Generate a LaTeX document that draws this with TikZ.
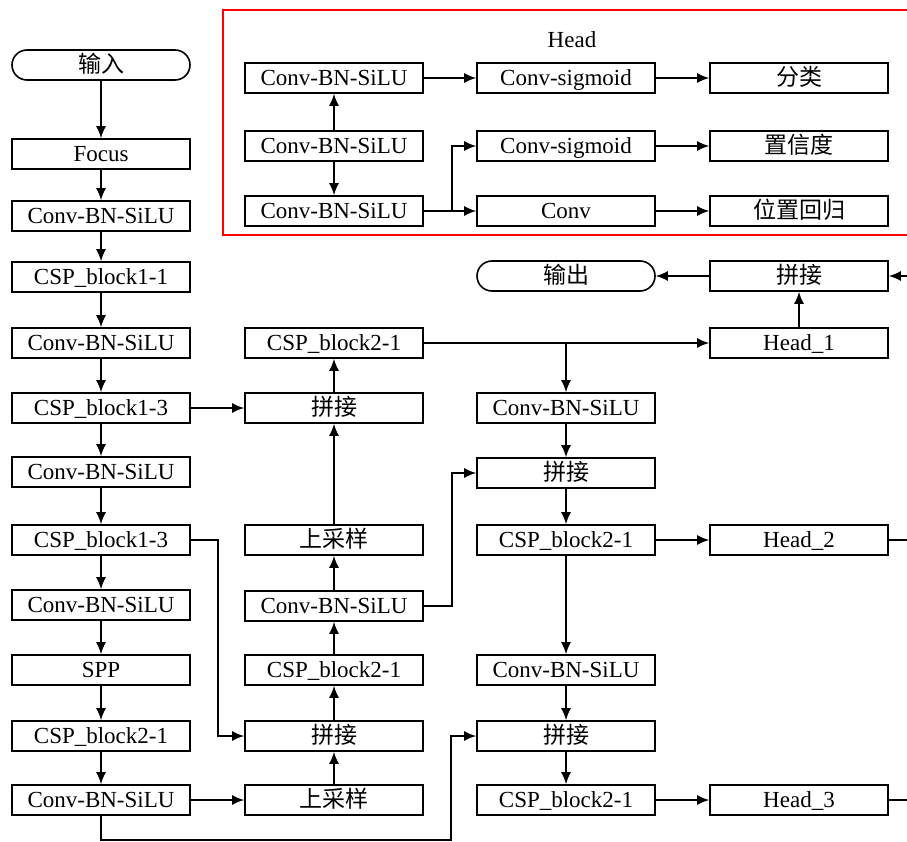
\documentclass[tikz,border=0pt]{standalone}
\usepackage{fontspec}
\setmainfont{Liberation Serif}
\newfontfamily\cjk{Noto Sans CJK SC}
\usetikzlibrary{arrows.meta}
\begin{document}
\begin{tikzpicture}[x=1pt,y=-1pt,
  box/.style={draw,line width=1.6pt,minimum width=178pt,minimum height=30pt,inner sep=0pt,text height=16pt,text depth=1pt,font=\fontsize{23}{25}\selectfont},
  rbox/.style={box,rounded corners=15pt},
  arr/.style={line width=1.6pt,-{Latex[length=12pt,width=10pt]}},
  ln/.style={line width=1.6pt}]
\clip (0,0) rectangle (907,842);
% left column
\node[rbox] (l0) at (101,65) {\cjk 输入};
\node[box] (l1) at (101,154) {Focus};
\node[box] (l2) at (101,216) {Conv-BN-SiLU};
\node[box] (l3) at (101,277) {CSP\_block1-1};
\node[box] (l4) at (101,343) {Conv-BN-SiLU};
\node[box] (l5) at (101,408) {CSP\_block1-3};
\node[box] (l6) at (101,472) {Conv-BN-SiLU};
\node[box] (l7) at (101,540) {CSP\_block1-3};
\node[box] (l8) at (101,605) {Conv-BN-SiLU};
\node[box] (l9) at (101,670) {SPP};
\node[box] (l10) at (101,736) {CSP\_block2-1};
\node[box] (l11) at (101,800) {Conv-BN-SiLU};
% second column
\node[box] (m1) at (334,343) {CSP\_block2-1};
\node[box] (m2) at (334,408) {\cjk 拼接};
\node[box] (m3) at (334,540) {\cjk 上采样};
\node[box] (m4) at (334,606) {Conv-BN-SiLU};
\node[box] (m5) at (334,670) {CSP\_block2-1};
\node[box] (m6) at (334,736) {\cjk 拼接};
\node[box] (m7) at (334,800) {\cjk 上采样};
% third column
\node[rbox] (out) at (566,276) {\cjk 输出};
\node[box] (r1) at (566,408) {Conv-BN-SiLU};
\node[box] (r2) at (566,473) {\cjk 拼接};
\node[box] (r3) at (566,540) {CSP\_block2-1};
\node[box] (r4) at (566,670) {Conv-BN-SiLU};
\node[box] (r5) at (566,736) {\cjk 拼接};
\node[box] (r6) at (566,800) {CSP\_block2-1};
% fourth column
\node[box] (cat) at (799,276) {\cjk 拼接};
\node[box] (h1) at (799,343) {Head\_1};
\node[box] (h2) at (799,540) {Head\_2};
\node[box] (h3) at (799,800) {Head\_3};
\coordinate (e1) at (907,276);
\coordinate (e2) at (907,540);
\coordinate (e3) at (907,800);
\coordinate (j1) at (451,840);
% head box
\draw[red,line width=1.5pt] (223,10) rectangle (915,235);
\node[font=\fontsize{23}{25}\selectfont] (ht) at (572,40) {Head};
\node[box] (a1) at (334,78) {Conv-BN-SiLU};
\node[box] (a2) at (334,146) {Conv-BN-SiLU};
\node[box] (a3) at (334,211) {Conv-BN-SiLU};
\node[box] (b1) at (566,78) {Conv-sigmoid};
\node[box] (b2) at (566,146) {Conv-sigmoid};
\node[box] (b3) at (566,211) {Conv};
\node[box] (c1) at (799,78) {\cjk 分类};
\node[box] (c2) at (799,146) {\cjk 置信度};
\node[box] (c3) at (799,211) {\cjk 位置回归};
% head connectors
\draw[arr] (a2) -- (a1);
\draw[arr] (a2) -- (a3);
\draw[arr] (a1) -- (b1);
\draw[arr] (b1) -- (c1);
\draw[arr] (b2) -- (c2);
\draw[arr] (b3) -- (c3);
\draw[arr] (a3) -- (b3);
\draw[arr] (a3.east) -- ++(28,0) |- (b2.west);
% left column chain
\foreach \i/\j in {l0/l1,l1/l2,l2/l3,l3/l4,l4/l5,l5/l6,l6/l7,l7/l8,l8/l9,l9/l10,l10/l11}
  \draw[arr] (\i) -- (\j);
\draw[arr] (l5) -- (m2);
\draw[arr] (l7.east) -- ++(27,0) |- (m6.west);
\draw[arr] (l11) -- (m7);
\draw[arr] (l11.south) |- (j1) |- (r5.west);
% second column chain
\foreach \i/\j in {m7/m6,m6/m5,m5/m4,m4/m3,m3/m2,m2/m1}
  \draw[arr] (\i) -- (\j);
\draw[arr] (m4.east) -- ++(28,0) |- (r2.west);
\draw[arr] (m1) -- (h1);
\draw[arr] (r1.north |- m1.east) -- (r1.north);
% third column chain
\foreach \i/\j in {r1/r2,r2/r3,r3/r4,r4/r5,r5/r6}
  \draw[arr] (\i) -- (\j);
\draw[arr] (r3) -- (h2);
\draw[arr] (r6) -- (h3);
% outputs
\draw[arr] (h1) -- (cat);
\draw[arr] (cat) -- (out);
\draw[arr] (e1) -- (cat);
\draw[ln] (h2.east) -- (e2);
\draw[ln] (h3.east) -- (e3);
\end{tikzpicture}
\end{document}
